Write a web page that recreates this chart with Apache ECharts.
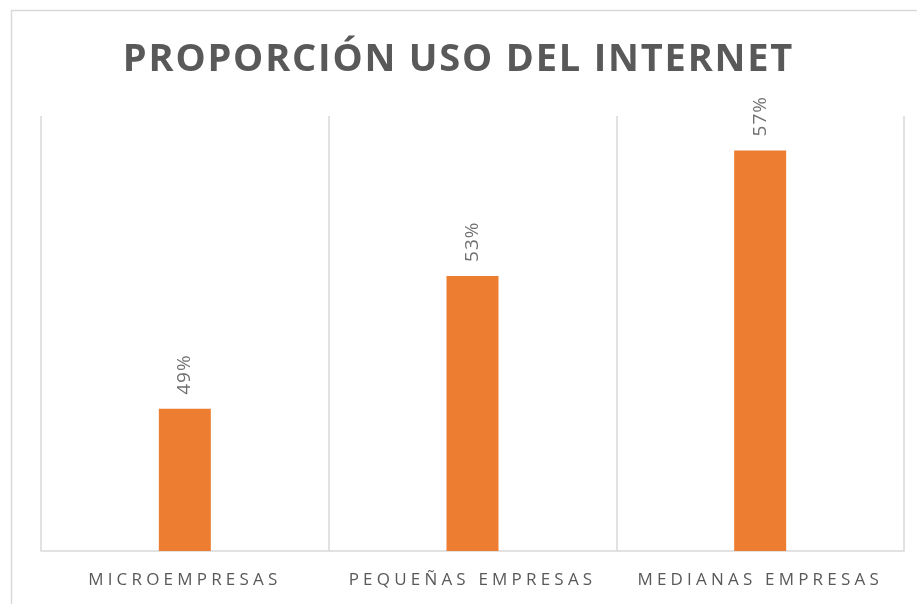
<!DOCTYPE html>
<html>
<head>
<meta charset="utf-8">
<script src="https://cdn.jsdelivr.net/npm/echarts@6/dist/echarts.min.js"></script>
<style>
html,body{margin:0;padding:0;background:#fff;}
#chart{width:917px;height:604px;}
</style>
</head>
<body>
<div id="chart"></div>
<script>
const titleText = 'PROPORCIÓN USO DEL INTERNET';
const categories = ['MICROEMPRESAS', 'PEQUEÑAS EMPRESAS', 'MEDIANAS EMPRESAS'];
const values = [49.25, 53.22, 56.97];

// letter spacing for the spaced-out text styles (title & category labels)
(function(){
  const proto = CanvasRenderingContext2D.prototype;
  const orig = proto.fillText;
  proto.fillText = function(t, x, y, m){
    const f = this.font || '';
    let ls = '0px';
    if (/\b38px/.test(f)) ls = '1.8px';
    else if (/\b17px/.test(f)) ls = '4.2px';
    else if (/\b19px/.test(f)) ls = '1px';
    try { this.letterSpacing = ls; } catch(e) {}
    if (m === undefined) orig.call(this, t, x, y); else orig.call(this, t, x, y, m);
    try { this.letterSpacing = '0px'; } catch(e) {}
  };
})();

const chart = echarts.init(document.getElementById('chart'), null, {renderer:'canvas'});
chart.setOption({
  animation: false,
  backgroundColor: '#ffffff',
  title: {
    text: titleText,
    left: 'center',
    top: 36,
    textStyle: {fontFamily: 'Open Sans', fontWeight: 'bold', fontSize: 38, color: '#595959'}
  },
  graphic: [{
    type: 'rect',
    shape: {x: 11.5, y: 10.5, width: 1000, height: 700},
    style: {fill: 'none', stroke: '#d9d9d9', lineWidth: 1.5},
    silent: true
  }],
  grid: {left: 41, right: 13, top: 116, bottom: 53},
  xAxis: {
    type: 'category',
    data: categories,
    boundaryGap: true,
    axisLine: {show: true, lineStyle: {color: '#d9d9d9', width: 1.5}},
    axisTick: {show: false},
    splitLine: {show: true, lineStyle: {color: '#d9d9d9', width: 1.5}},
    axisLabel: {margin: 21, fontFamily: 'Open Sans', fontSize: 17, color: '#595959', interval: 0}
  },
  yAxis: {
    type: 'value',
    min: 45,
    max: 58,
    show: false,
    splitLine: {show: false}
  },
  series: [{
    type: 'bar',
    data: values,
    barWidth: 52,
    itemStyle: {color: '#ED7D31'},
    label: {
      show: true,
      position: 'top',
      distance: 14,
      rotate: 90,
      align: 'left',
      verticalAlign: 'middle',
      fontFamily: 'Open Sans',
      fontSize: 19,
      color: '#707070',
      formatter: p => Math.round(p.value) + '%'
    }
  }]
});
</script>
</body>
</html>
